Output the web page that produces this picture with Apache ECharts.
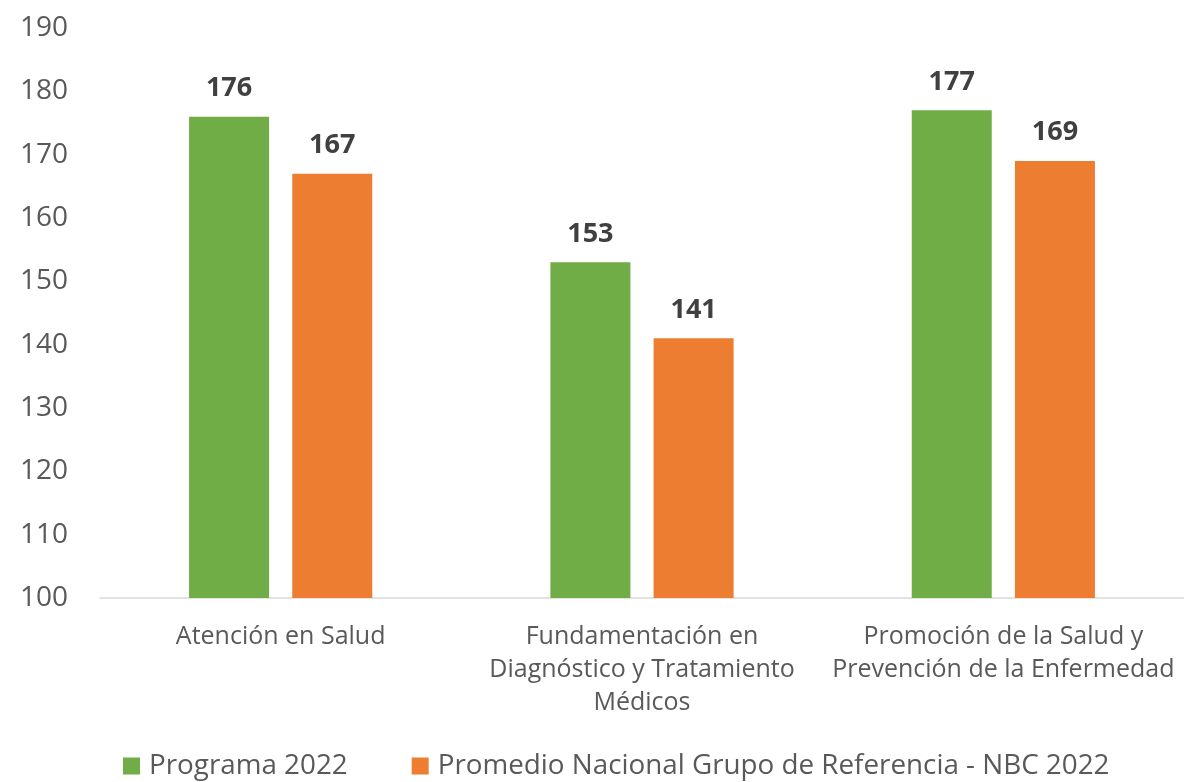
<!DOCTYPE html>
<html>
	<head>
		<meta charset="utf-8">
		<script type="text/javascript" src="https://cdn.jsdelivr.net/npm/echarts@6/dist/echarts.min.js"></script>
		<style>
			html, body { margin: 0; padding: 0; background: #fff; }
		</style>
	</head>
	<body>
		<div id="main" style="width:1184px;height:782px;"></div>

		<script type="text/javascript">
			// datos del grafico
			var categorias = [
				'Atención en Salud',
				'Fundamentación en\nDiagnóstico y Tratamiento\nMédicos',
				'Promoción de la Salud y\nPrevención de la Enfermedad'
			];
			var programa2022 = [176, 153, 177];
			var promedioNBC2022 = [167, 141, 169];
			var nombresSeries = ['Programa 2022', 'Promedio Nacional Grupo de Referencia - NBC 2022'];

			var fuente = '"Open Sans", "Noto Sans", sans-serif';
			var gris = '#595959';

			var myChart = echarts.init(document.getElementById('main'));

			var etiqueta = {
				show: true,
				position: 'top',
				distance: 15,
				color: '#404040',
				fontSize: 27,
				fontWeight: 'bold',
				fontFamily: fuente
			};

			var option = {
				backgroundColor: '#ffffff',
				textStyle: { fontFamily: fuente },
				legend: {
					left: 123,
					top: 752,
					padding: 0,
					itemWidth: 17,
					itemHeight: 17,
					itemGap: 64,
					icon: 'rect',
					textStyle: { color: gris, fontSize: 27.8, fontFamily: fuente, padding: [0, 0, 0, 4] },
					data: nombresSeries
				},
				grid: {
					left: 100,
					right: 0,
					top: 28,
					bottom: 184
				},
				xAxis: {
					type: 'category',
					data: categorias,
					axisLine: { lineStyle: { color: '#d9d9d9', width: 1.5 } },
					axisTick: { show: false },
					axisLabel: {
						color: gris,
						fontSize: 25,
						lineHeight: 33,
						margin: 22,
						interval: 0,
						fontFamily: fuente
					}
				},
				yAxis: {
					type: 'value',
					min: 100,
					max: 190,
					interval: 10,
					axisLine: { show: false },
					axisTick: { show: false },
					splitLine: { show: false },
					axisLabel: {
						color: gris,
						fontSize: 28,
						margin: 32,
						fontFamily: fuente
					}
				},
				series: [
					{
						name: nombresSeries[0],
						type: 'bar',
						data: programa2022,
						barWidth: 80,
						barGap: '29%',
						itemStyle: { color: '#70ad47' },
						label: etiqueta
					},
					{
						name: nombresSeries[1],
						type: 'bar',
						data: promedioNBC2022,
						barWidth: 80,
						itemStyle: { color: '#ed7d31' },
						label: etiqueta
					}
				]
			};

			myChart.setOption(option);
		</script>
	</body>
</html>
